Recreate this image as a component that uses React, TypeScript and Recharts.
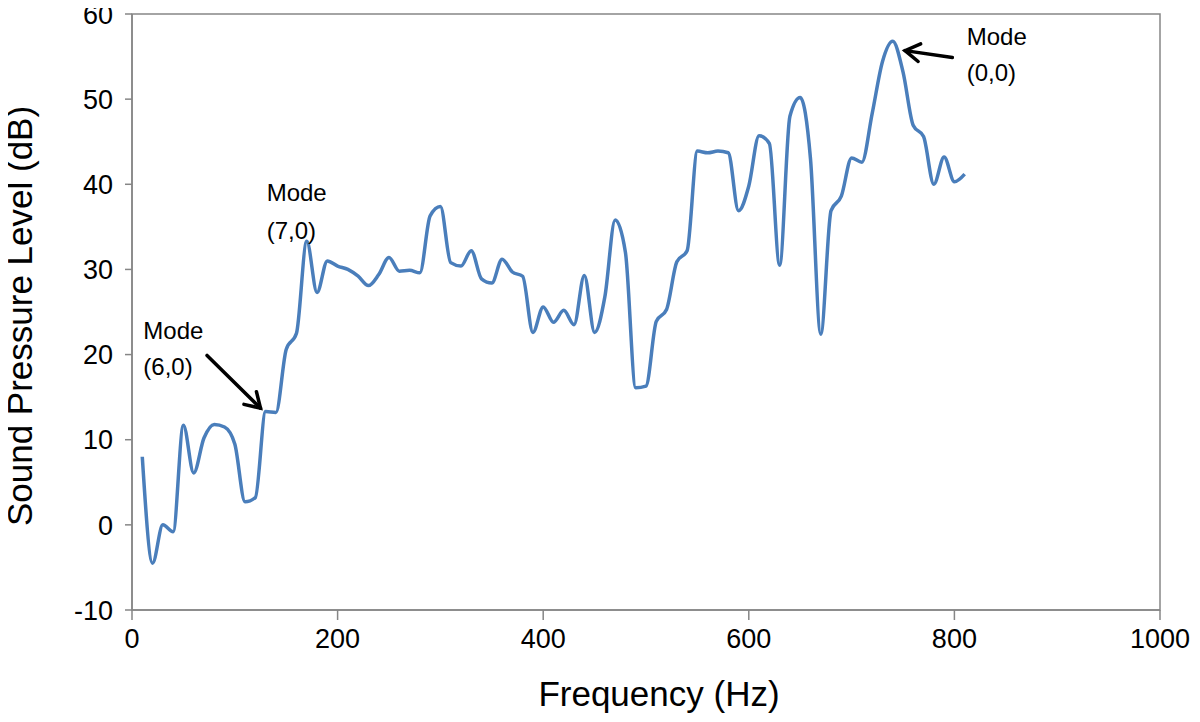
import {
  LineChart,
  Line,
  XAxis,
  YAxis,
  ReferenceLine,
  ReferenceDot,
  ReferenceArea,
  Label,
} from "recharts";

// measured spectrum, 10 Hz steps
const frequencies = [
  10, 20, 30, 40, 50, 60, 70, 80, 90, 100, 110, 120, 130, 140, 150, 160, 170,
  180, 190, 200, 210, 220, 230, 240, 250, 260, 270, 280, 290, 300, 310, 320,
  330, 340, 350, 360, 370, 380, 390, 400, 410, 420, 430, 440, 450, 460, 470,
  480, 490, 500, 510, 520, 530, 540, 550, 560, 570, 580, 590, 600, 610, 620,
  630, 640, 650, 660, 670, 680, 690, 700, 710, 720, 730, 740, 750, 760, 770,
  780, 790, 800, 810,
];
const splValues = [
  8.0, -4.5, 0.0, -0.8, 11.7, 6.1, 10.2, 11.8, 11.5, 9.5, 2.7, 3.2, 13.3, 13.2,
  20.6, 22.5, 33.3, 27.3, 31.0, 30.4, 30.0, 29.2, 28.1, 29.4, 31.4, 29.8, 29.9,
  29.6, 36.3, 37.4, 30.8, 30.4, 32.2, 28.9, 28.4, 31.2, 29.7, 29.2, 22.6, 25.6,
  23.8, 25.2, 23.5, 29.3, 22.6, 26.8, 35.8, 32.0, 16.1, 16.3, 23.9, 25.3, 30.9,
  32.2, 43.9, 43.7, 43.9, 43.7, 36.9, 39.8, 45.7, 44.8, 30.5, 48.0, 50.2, 43.0,
  22.4, 36.9, 38.6, 43.1, 42.6, 48.3, 54.4, 56.8, 53.2, 46.9, 45.6, 40.0, 43.2,
  40.3, 41.2,
];
const xTicks = [0, 200, 400, 600, 800, 1000];
const yTicks = [-10, 0, 10, 20, 30, 40, 50, 60];

// annotations: text anchor (left, first line / second line) and arrow tail -> tip
const notes = [
  { lines: ["Mode", "(6,0)"], x: 11, y1: 22.8, y2: 18.6, arrow: [73, 19.9, 125, 13.7] },
  { lines: ["Mode", "(7,0)"], x: 131, y1: 39.1, y2: 34.6, arrow: null },
  { lines: ["Mode", "(0,0)"], x: 812, y1: 57.4, y2: 53.2, arrow: [798, 54.9, 752, 55.7] },
];

const data = frequencies.map((f, i) => ({ f, spl: splValues[i] }));

const FONT = '"Liberation Sans", Arial, sans-serif';
const AXIS = "#868686";
const TICK_FS = 27;

const Arrow = (props: any) => {
  const { x1, y1, x2, y2 } = props;
  const a = Math.atan2(y2 - y1, x2 - x1);
  const len = 17;
  const spread = 0.55;
  const p1 = [x2 - len * Math.cos(a - spread), y2 - len * Math.sin(a - spread)];
  const p2 = [x2 - len * Math.cos(a + spread), y2 - len * Math.sin(a + spread)];
  return (
    <g stroke="#000" strokeWidth={3.5} fill="none" strokeLinecap="round">
      <line x1={x1} y1={y1} x2={x2} y2={y2} />
      <polyline points={`${p1[0]},${p1[1]} ${x2},${y2} ${p2[0]},${p2[1]}`} />
    </g>
  );
};

const noteText = (text: string) => (props: any) => (
  <text
    x={props.cx}
    y={props.cy}
    dy="0.36em"
    fontSize={24}
    fontFamily={FONT}
    fill="#000"
  >
    {text}
  </text>
);

const XTick = (props: any) => (
  <text
    x={props.x}
    y={props.y}
    dy="0.71em"
    textAnchor="middle"
    fontSize={TICK_FS}
    fontFamily={FONT}
    fill="#000"
  >
    {props.payload.value}
  </text>
);

const YTick = (props: any) => (
  <text
    x={props.x}
    y={props.y}
    dy="0.36em"
    textAnchor="end"
    fontSize={TICK_FS}
    fontFamily={FONT}
    fill="#000"
  >
    {props.payload.value}
  </text>
);

const App = () => {
  return (
    <div style={{ margin: -8 }}>
      <style>{`body{margin:8px;background:#fff}`}</style>
      <LineChart
        width={1200}
        height={722}
        data={data}
        margin={{ top: 14, right: 40, left: 0, bottom: 0 }}
      >
        <ReferenceArea
          x1={0}
          x2={1000}
          y1={-10}
          y2={60}
          fill="none"
          stroke={AXIS}
          strokeWidth={1.5}
        />
        <XAxis
          dataKey="f"
          type="number"
          domain={[0, 1000]}
          ticks={xTicks}
          height={112}
          stroke={AXIS}
          strokeWidth={1.5}
          tickSize={10}
          tickMargin={9}
          tick={XTick}
        >
          <Label
            content={() => (
              <text
                x={659}
                y={693}
                dy="0.36em"
                textAnchor="middle"
                fontSize={35}
                fontFamily={FONT}
                fill="#000"
              >
                Frequency (Hz)
              </text>
            )}
          />
        </XAxis>
        <YAxis
          type="number"
          domain={[-10, 60]}
          ticks={yTicks}
          width={132}
          stroke={AXIS}
          strokeWidth={1.5}
          tickSize={7}
          tickMargin={12}
          tick={YTick}
        >
          <Label
            content={() => (
              <text
                x={19}
                y={316}
                dy="0.36em"
                textAnchor="middle"
                fontSize={35}
                fontFamily={FONT}
                fill="#000"
                transform="rotate(-90 19 316)"
              >
                Sound Pressure Level (dB)
              </text>
            )}
          />
        </YAxis>
        <Line
          type="monotone"
          dataKey="spl"
          stroke="#4a7ebb"
          strokeWidth={3.5}
          dot={false}
          isAnimationActive={false}
        />
        {notes.map((n, i) =>
          n.lines.map((t, j) => (
            <ReferenceDot
              key={`t-${i}-${j}`}
              x={n.x}
              y={j === 0 ? n.y1 : n.y2}
              r={0}
              shape={noteText(t)}
            />
          ))
        )}
        {notes
          .filter((n) => n.arrow)
          .map((n, i) => (
            <ReferenceLine
              key={`a-${i}`}
              segment={[
                { x: n.arrow![0], y: n.arrow![1] },
                { x: n.arrow![2], y: n.arrow![3] },
              ]}
              shape={Arrow}
            />
          ))}
      </LineChart>
    </div>
  );
};

export default App;
